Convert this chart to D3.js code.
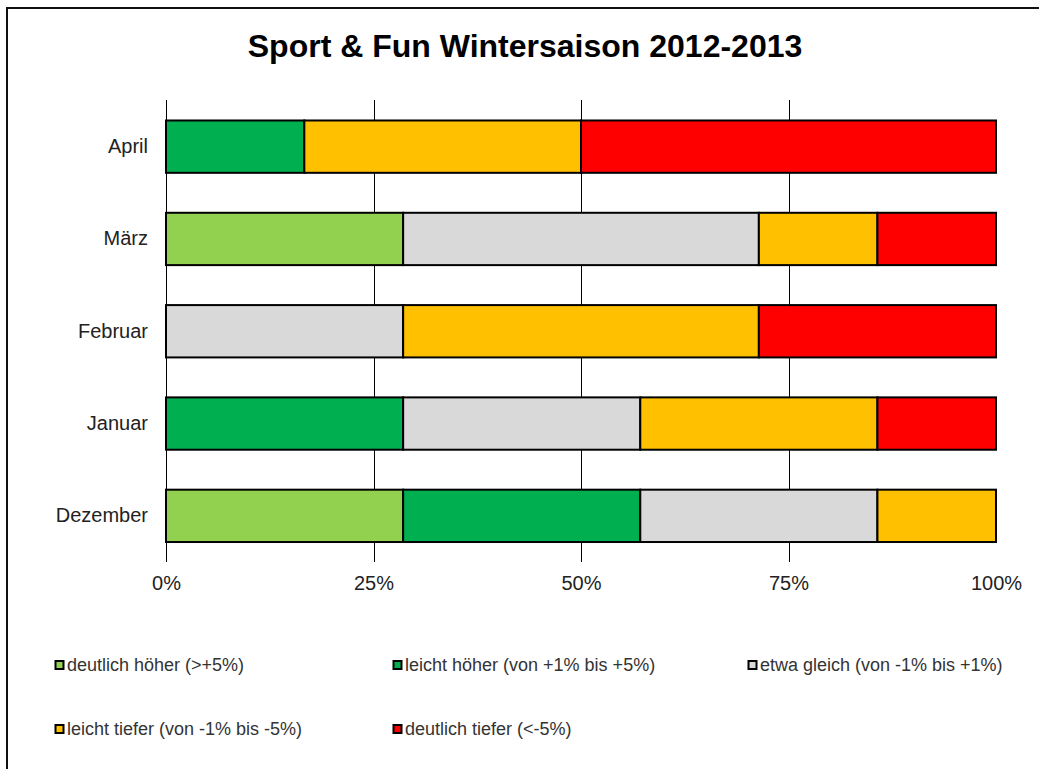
<!DOCTYPE html>
<html lang="de">
<head>
<meta charset="UTF-8">
<title>Sport & Fun Wintersaison 2012-2013</title>
<style>
  body { margin: 0; background: #fff; }
  text { font-family: "Liberation Sans", Arial, sans-serif; }
</style>
</head>
<body>
<svg width="1039" height="769"></svg>
<script src="https://d3js.org/d3.v7.min.js"></script>
<script>
(function () {
  'use strict';

  // Monate von oben nach unten
  var months = ["April", "März", "Februar", "Januar", "Dezember"];

  var seriesNames = [
    "deutlich höher (>+5%)",
    "leicht höher (von +1% bis +5%)",
    "etwa gleich (von -1% bis +1%)",
    "leicht tiefer (von -1% bis -5%)",
    "deutlich tiefer (<-5%)"
  ];
  var seriesColors = ["#92D050", "#00B050", "#D9D9D9", "#FFC000", "#FF0000"];

  // Anzahl Antworten je Monat (April, März, Februar, Januar, Dezember)
  var deutlichHoeher = [0, 2, 0, 0, 2];
  var leichtHoeher   = [1, 0, 0, 2, 2];
  var etwaGleich     = [0, 3, 2, 2, 2];
  var leichtTiefer   = [2, 1, 3, 2, 1];
  var deutlichTiefer = [3, 1, 2, 1, 0];

  var tickValues = [0, 0.25, 0.5, 0.75, 1];
  var title = "Sport & Fun Wintersaison 2012-2013";

  var allSeries = [deutlichHoeher, leichtHoeher, etwaGleich, leichtTiefer, deutlichTiefer];
  var rows = months.map(function (m, i) {
    var r = { month: m };
    seriesNames.forEach(function (s, j) { r[s] = allSeries[j][i]; });
    return r;
  });

  var stacked = d3.stack()
    .keys(seriesNames)
    .offset(d3.stackOffsetExpand)(rows);

  var svg = d3.select("svg");

  // Rahmen
  svg.append("rect")
    .attr("x", 7).attr("y", 8)
    .attr("width", 1200).attr("height", 1000)
    .attr("fill", "none")
    .attr("stroke", "#111")
    .attr("stroke-width", 2);

  svg.append("text")
    .attr("x", 525).attr("y", 57)
    .attr("text-anchor", "middle")
    .attr("font-size", 32)
    .attr("font-weight", "bold")
    .attr("fill", "#000")
    .text(title);

  var x = d3.scaleLinear().domain([0, 1]).range([166, 996]);
  var y = d3.scaleBand().domain(months).range([100.5, 562])
    .paddingInner(0.433).paddingOuter(0.2165);

  // Gitternetz
  svg.append("g").selectAll("line")
    .data(tickValues.filter(function (t) { return t < 1; }))
    .enter().append("line")
    .attr("x1", function (d) { return Math.round(x(d)) + 0.5; })
    .attr("x2", function (d) { return Math.round(x(d)) + 0.5; })
    .attr("y1", 100).attr("y2", 562)
    .attr("stroke", "#000")
    .attr("stroke-width", 1);

  // x-Achse
  var xAxis = svg.append("g")
    .attr("transform", "translate(0,562)")
    .call(d3.axisBottom(x).tickValues(tickValues).tickFormat(d3.format(".0%")).tickSize(0).tickPadding(14));
  xAxis.select(".domain").remove();
  xAxis.selectAll("text")
    .attr("font-size", 20)
    .attr("fill", "#222")
    .style("font-family", "'Liberation Sans', Arial, sans-serif");

  // y-Achse
  var yAxis = svg.append("g")
    .attr("transform", "translate(166,0)")
    .call(d3.axisLeft(y).tickSize(0).tickPadding(18));
  yAxis.select(".domain").remove();
  yAxis.selectAll("text")
    .attr("font-size", 20)
    .attr("fill", "#222")
    .style("font-family", "'Liberation Sans', Arial, sans-serif");

  // Balken
  svg.append("g").selectAll("g")
    .data(stacked)
    .enter().append("g")
    .attr("fill", function (d, i) { return seriesColors[i]; })
    .selectAll("rect")
    .data(function (d) { return d.filter(function (v) { return v[1] - v[0] > 0; }); })
    .enter().append("rect")
    .attr("x", function (d) { return x(d[0]); })
    .attr("y", function (d) { return y(d.data.month); })
    .attr("width", function (d) { return x(d[1]) - x(d[0]); })
    .attr("height", y.bandwidth())
    .attr("stroke", "#000")
    .attr("stroke-width", 2);

  // Legende
  var legendPos = [[55, 665], [393, 665], [748, 665], [55, 729], [393, 729]];
  var legend = svg.append("g").selectAll("g")
    .data(seriesNames)
    .enter().append("g")
    .attr("transform", function (d, i) { return "translate(" + legendPos[i][0] + "," + legendPos[i][1] + ")"; });

  legend.append("rect")
    .attr("x", 0.5).attr("y", -4)
    .attr("width", 8).attr("height", 8)
    .attr("fill", function (d, i) { return seriesColors[i]; })
    .attr("stroke", "#000")
    .attr("stroke-width", 2);

  legend.append("text")
    .attr("x", 12).attr("y", 6)
    .attr("font-size", 18)
    .attr("fill", "#333")
    .text(function (d) { return d; });
})();
</script>
</body>
</html>
